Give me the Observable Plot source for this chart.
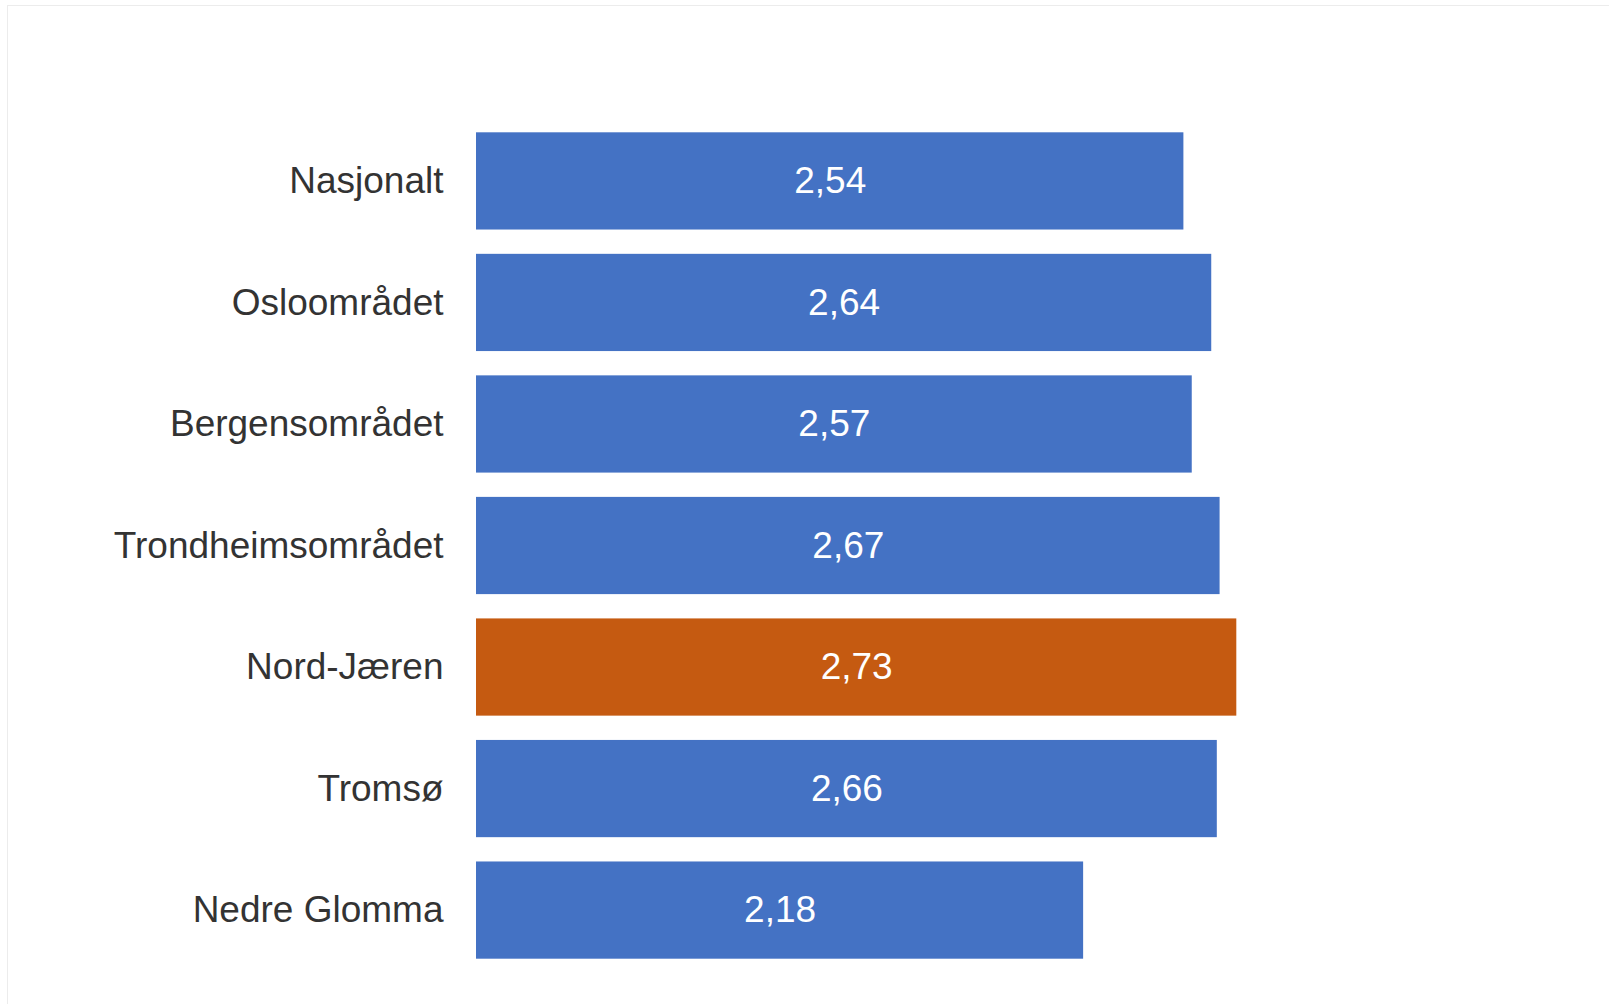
<!DOCTYPE html>
<html>
<head>
<meta charset="utf-8">
<script src="https://cdn.jsdelivr.net/npm/d3@7"></script>
<script src="https://cdn.jsdelivr.net/npm/@observablehq/plot@0.6"></script>
<style>
  html, body { margin: 0; padding: 0; background: #fff; width: 1609px; height: 1004px; overflow: hidden; }
  #frame { position: absolute; left: 7px; top: 5px; width: 1620px; height: 1020px; border: 1px solid #ececec; box-sizing: border-box; }
  #chart { position: absolute; left: 0; top: 0; }
  svg { font-family: "Liberation Sans", Arial, sans-serif; }
</style>
</head>
<body>
<div id="frame"></div>
<div id="chart"></div>
<script>
const categories = ["Nasjonalt", "Osloområdet", "Bergensområdet", "Trondheimsområdet", "Nord-Jæren", "Tromsø", "Nedre Glomma"];
const values = [2.54, 2.64, 2.57, 2.67, 2.73, 2.66, 2.18];
const highlight = "Nord-Jæren";

const data = categories.map((c, i) => ({category: c, value: values[i]}));
const fmt = v => v.toFixed(2).replace(".", ",");

const chart = Plot.plot({
  width: 1609,
  height: 1004,
  marginLeft: 476,
  marginRight: 19,
  marginTop: 108,
  marginBottom: 21,
  x: {domain: [0, 4], axis: null},
  y: {domain: categories, padding: 0.2, round: false, label: null, axis: null},
  style: {fontFamily: "Liberation Sans, Arial, sans-serif", color: "#333"},
  marks: [
    Plot.barX(data, {y: "category", x: "value", fill: d => d.category === highlight ? "#C55A11" : "#4472C4"}),
    Plot.text(data, {y: "category", x: d => d.value / 2, text: d => fmt(d.value), fill: "white", fontSize: 37, dy: 0}),
    Plot.axisY({tickSize: 0, tickPadding: 33, fontSize: 37, fill: "#333", label: null})
  ]
});
document.getElementById("chart").appendChild(chart);
</script>
</body>
</html>
